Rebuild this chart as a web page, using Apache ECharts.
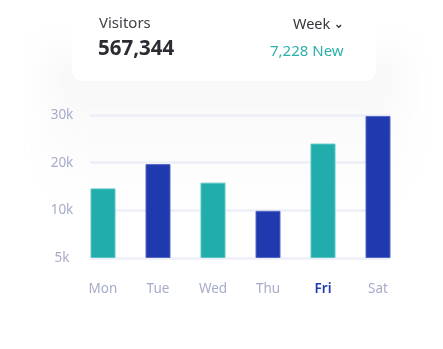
<!DOCTYPE html>
<html>
<head>
<meta charset="utf-8">
<script src="https://cdn.jsdelivr.net/npm/echarts@6/dist/echarts.min.js"></script>
<style>
  html, body { margin: 0; padding: 0; background: #ffffff; }
  #wrap { position: relative; width: 443px; height: 349px; overflow: hidden; }
  /* soft haze behind the plot card */
  #haze {
    position: absolute; left: 45px; top: 50px; width: 360px; height: 150px;
    background: linear-gradient(to bottom, #f7f7f9 0%, #fafafb 45%, #ffffff 100%);
    filter: blur(16px);
  }
  #chart { position: absolute; left: 0; top: 0; width: 443px; height: 349px; }
</style>
</head>
<body>
<div id="wrap">
  <div id="haze"></div>
  <div id="chart"></div>
</div>
<script>
// Weekly visitors
const days = ['Mon', 'Tue', 'Wed', 'Thu', 'Fri', 'Sat'];
const visitors = [14600, 19700, 15800, 9900, 24000, 29800];
const yTickLabels = ['5k', '10k', '20k', '30k'];
const barColors = ['#20adab', '#1f3aae'];
const activeDay = 'Fri';
const totalVisitors = '567,344';
const newVisitors = '7,228 New';
const periodLabel = 'Week';

const font = '"Noto Sans", "Open Sans", sans-serif';
const chart = echarts.init(document.getElementById('chart'), null, { renderer: 'canvas' });

const yAxisBase = {
  type: 'value', min: 0, max: 30000, interval: 10000
};

chart.setOption({
  backgroundColor: 'transparent',
  animation: false,
  graphic: [
    {
      type: 'rect', z: -9, silent: true,
      shape: { x: 72, y: -10, width: 304, height: 91, r: 10 },
      style: { fill: '#ffffff' }
    },
    {
      type: 'text', left: 99, top: 16,
      style: { text: 'Visitors', font: '400 15px ' + font, fill: '#3f4146' }
    },
    {
      type: 'text', left: 98, top: 39,
      style: { text: totalVisitors, font: '700 20.5px ' + font, fill: '#2a2c32' }
    },
    {
      type: 'text', left: 293, top: 17,
      style: { text: periodLabel, font: '400 14.5px ' + font, fill: '#33353a' }
    },
    {
      type: 'polyline', silent: true,
      shape: { points: [[336.5, 25], [338.8, 27.3], [341.1, 25]] },
      style: { stroke: '#33353a', lineWidth: 1.3, fill: null }
    },
    {
      type: 'text', left: 270, top: 44,
      style: { text: newVisitors, font: '400 15px ' + font, fill: '#2bb0ac' }
    }
  ],
  grid: [
    { left: 75.5, width: 330, top: 115, bottom: 91 },
    { left: 90, width: 300, top: 115, bottom: 91 }
  ],
  xAxis: [
    {
      type: 'category', data: days, gridIndex: 0,
      axisLine: { show: false }, axisTick: { show: false },
      axisLabel: {
        interval: 0, hideOverlap: false,
        margin: 31, verticalAlign: 'middle', fontFamily: font, fontSize: 13.5,
        color: '#a7acc8',
        rich: { active: { color: '#2238b0', fontWeight: 600, fontSize: 13.5, fontFamily: font } },
        formatter: v => v === activeDay ? '{active|' + v + '}' : v
      }
    },
    {
      type: 'value', gridIndex: 1, min: 0, max: 1, show: false
    }
  ],
  yAxis: [
    Object.assign({}, yAxisBase, { gridIndex: 0, show: false }),
    Object.assign({}, yAxisBase, {
      gridIndex: 1,
      axisLine: { show: false }, axisTick: { show: false },
      splitLine: { show: true, lineStyle: { color: '#eceef8', width: 2.5 } },
      axisLabel: {
        margin: 28, align: 'center', fontFamily: font, fontSize: 13.5, color: '#a7acc8',
        formatter: (v) => yTickLabels[Math.round(v / 10000)]
      }
    })
  ],
  series: [
    {
      type: 'bar', xAxisIndex: 0, yAxisIndex: 0, barWidth: 25,
      data: visitors.map((v, i) => ({
        value: v,
        itemStyle: {
          color: barColors[i % 2],
          borderColor: i % 2 ? '#5566c4' : '#5ac6c2',
          borderWidth: 1
        }
      }))
    }
  ]
});
</script>
</body>
</html>
